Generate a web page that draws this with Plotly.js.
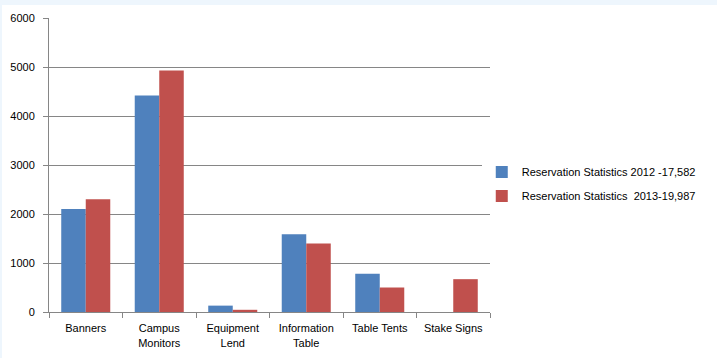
<!DOCTYPE html>
<html><head><meta charset="utf-8">
<script src="https://cdn.plot.ly/plotly-3.0.1.min.js"></script>
<style>
html,body{margin:0;padding:0;background:#eef6fd;width:717px;height:358px;overflow:hidden}
#chart{position:absolute;left:2px;top:5px;width:715px;height:353px;background:#fff}
</style></head><body>
<div id="chart"></div>
<script>
const categories = ["Banners", "Campus<br>Monitors", "Equipment<br>Lend", "Information<br>Table", "Table Tents", "Stake Signs"];
const series2012Name = "Reservation Statistics 2012 -17,582";
const series2013Name = "Reservation Statistics  2013-19,987";
const values2012 = [2100, 4420, 130, 1585, 780, 0];
const values2013 = [2300, 4930, 45, 1400, 500, 670];
const yTicks = [0, 1000, 2000, 3000, 4000, 5000, 6000];

const font = {family: "Liberation Sans, Arial, sans-serif", size: 11, color: "#000"};
const traces = [
  {type: "bar", x: categories, y: values2012, name: series2012Name, legendgroup: "a",
   marker: {color: "#4f81bd", line: {color: "#4f81bd", width: 0}}},
  {type: "bar", x: categories, y: values2013, name: series2013Name, legendgroup: "b",
   marker: {color: "#c0504d", line: {color: "#c0504d", width: 0}}}
];
const layout = {
  width: 715, height: 353,
  margin: {l: 47, r: 227, t: 13, b: 46, autoexpand: false},
  paper_bgcolor: "#fff", plot_bgcolor: "#fff",
  font: font,
  barmode: "group", bargap: 0.333, bargroupgap: 0,
  showlegend: true,
  legend: {xref: "container", x: 0.671, y: 0.435, xanchor: "left", yanchor: "middle", traceorder: "grouped",
           tracegroupgap: 5, font: {family: font.family, size: 11, color: "#000"},
           itemwidth: 30},
  xaxis: {type: "category", showline: true, linecolor: "#868686", linewidth: 1,
          ticks: "outside", tickson: "boundaries", ticklen: 5, tickcolor: "#868686",
          showgrid: false, tickfont: font, fixedrange: true, ticklabelstandoff: 6},
  yaxis: {range: [0, 6000], tickvals: yTicks, showline: true, linecolor: "#868686", linewidth: 1,
          ticks: "outside", ticklen: 5, tickcolor: "#868686", gridcolor: "#868686", gridwidth: 1,
          zeroline: false, tickfont: font, fixedrange: true, ticklabelstandoff: 6}
};
Plotly.newPlot("chart", traces, layout, {displayModeBar: false, staticPlot: true});
</script></body></html>
